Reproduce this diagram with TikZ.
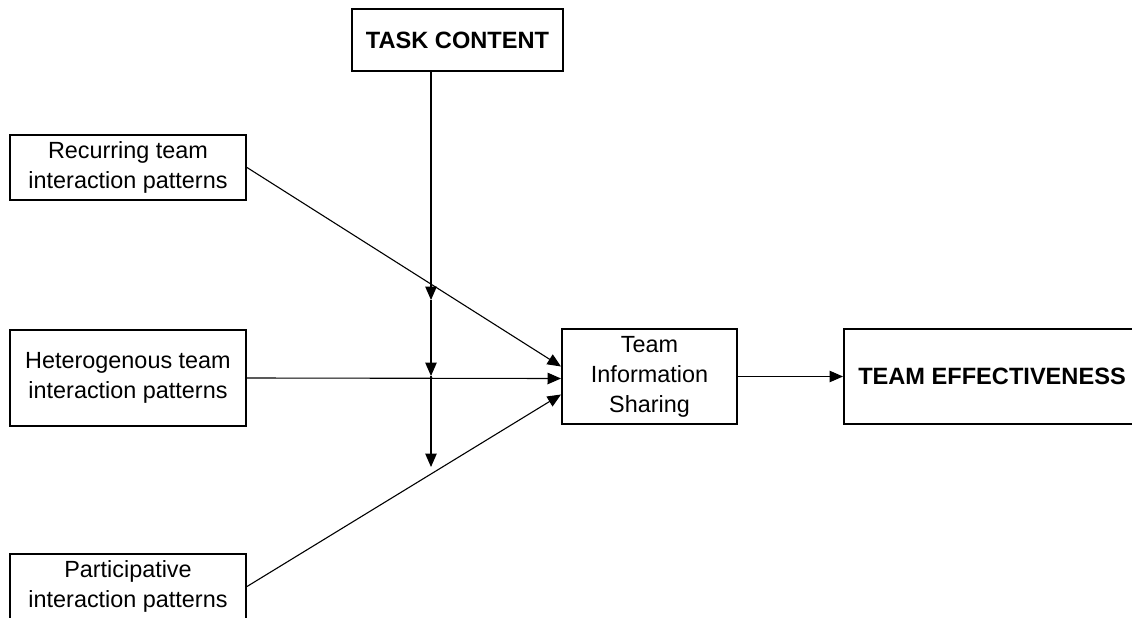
\documentclass[tikz,border=0pt]{standalone}
\usepackage{fontspec}
\setmainfont{Liberation Sans}
\usetikzlibrary{arrows.meta}
\begin{document}
\begin{tikzpicture}[x=1pt,y=-1pt,
  box/.style={draw, line width=2pt, inner sep=0pt, align=center, font=\fontsize{23.4}{30}\selectfont},
  boldtext/.style={font=\fontsize{23.6}{30}\selectfont\bfseries},
  conn/.style={line width=1.1pt, -{Triangle[length=13.5pt,width=11.5pt]}}
]
\useasboundingbox (0,0) rectangle (1132,618);
\node[box, boldtext, minimum width=211, minimum height=62] (task) at (457.5,40) {TASK CONTENT};
\node[box, minimum width=236, minimum height=65] (rec) at (128,167.5) {Recurring team\\interaction patterns};
\node[box, minimum width=236, minimum height=96] (het) at (128,378) {Heterogenous team\\interaction patterns};
\node[box, minimum width=236, minimum height=65] (par) at (128,586.5) {Participative\\interaction patterns};
\node[box, minimum width=175, minimum height=95] (tis) at (649.5,376.5) {Team\\Information\\Sharing};
\node[box, boldtext, minimum width=296, minimum height=95] (eff) at (992,376.5) {TEAM EFFECTIVENESS};
\coordinate (v1) at (431,300);
\coordinate (v2) at (431,376);
\coordinate (v3) at (431,467);
\draw[conn] (v1 |- task.south) -- (v1);
\draw[conn] (v1) -- (v2);
\draw[conn] (v2) -- (v3);
\draw[conn] (rec.east) -- ([yshift=10pt]tis.west);
\draw[conn] (het.east) -- ([yshift=-2pt]tis.west);
\draw[conn] (par.east) -- ([yshift=-18pt]tis.west);
\draw[conn] (tis.east) -- (eff.west);
\end{tikzpicture}
\end{document}
